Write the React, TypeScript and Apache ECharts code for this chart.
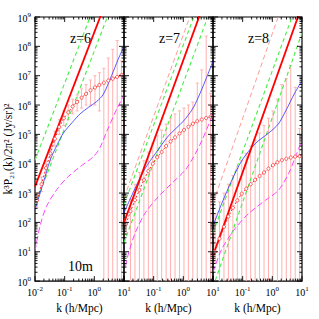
import React, { useEffect, useRef } from 'react';
import * as echarts from 'echarts';

const FONT = '"Liberation Serif", "DejaVu Serif", serif';

// ---- simulated power spectrum (circles) : k values shared by all panels
const kSim = [0.0117, 0.0166, 0.0234, 0.0331, 0.0468, 0.0661, 0.0933, 0.132, 0.186, 0.263,
  0.372, 0.525, 0.741, 1.05, 1.48, 2.09, 2.95, 4.17, 5.89, 8.32];

// z = 6
const sim6 = [560, 2.0e3, 7.1e3, 2.24e4, 7.1e4, 1.78e5, 3.55e5, 5.6e5, 8.9e5, 1.26e6,
  1.78e6, 2.4e6, 3.16e6, 3.98e6, 4.8e6, 5.75e6, 6.8e6, 7.9e6, 9.1e6, 1.05e7];
const hi6 = [1.0e3, 3.55e3, 1.26e4, 3.98e4, 1.26e5, 3.16e5, 6.3e5, 1.0e6, 1.58e6, 2.24e6,
  3.55e6, 5.0e6, 7.1e6, 1.0e7, 1.26e7, 1.78e7, 4.0e7, 7.9e7, 1.58e8, 3.16e7];
const lo6 = [316, 1.12e3, 3.98e3, 1.26e4, 3.98e4, 1.0e5, 2.0e5, 3.16e5, 5.0e5, 6.3e5,
  7.9e5, 1.0e6, 1.0e6, 1.0e6, 6.3e5, 0, 0, 0, 0, 0];

// z = 7
const sim7 = [89, 240, 575, 1.26e3, 2.82e3, 5.6e3, 1.0e4, 1.66e4, 2.5e4, 4.0e4,
  5.75e4, 7.9e4, 1.07e5, 1.41e5, 1.82e5, 2.3e5, 2.8e5, 3.2e5, 3.6e5, 4.0e5];
const hi7 = [200, 630, 2.0e3, 5.0e3, 1.26e4, 2.5e4, 5.0e4, 8.9e4, 1.41e5, 2.24e5,
  3.55e5, 5.0e5, 6.3e5, 7.9e5, 1.0e6, 1.26e6, 5.6e6, 1.58e7, 2.24e8, 2.5e6];
const lo7 = [40, 0, 0, 0, 0, 0, 0, 0, 0, 0, 0, 0, 0, 0, 0, 0, 0, 0, 0, 0];

// z = 8
const sim8 = [10, 28, 71, 158, 316, 562, 955, 1.41e3, 2.0e3, 2.82e3,
  3.8e3, 5.0e3, 6.8e3, 8.9e3, 1.12e4, 1.32e4, 1.48e4, 1.62e4, 1.74e4, 1.82e4];
const hi8 = [200, 500, 1.0e3, 2.0e3, 4.0e3, 7.1e3, 1.26e4, 2.24e4, 4.0e4, 6.3e4,
  1.12e5, 2.0e5, 3.55e5, 6.3e5, 1.58e6, 5.0e6, 7.9e6, 2.24e7, 4.0e6, 1.58e5];
const lo8 = [4, 0, 0, 0, 0, 0, 0, 0, 0, 0, 0, 0, 0, 0, 0, 0, 0, 0, 0, 0];

// ---- power-law noise lines (end points at k = 0.01 and k = 10)
const kLine = [0.01, 10];
const red6 = [1.66e3, 1.3e11];
const greenA6 = [1.32e4, 1.0e12];
const greenB6 = [380, 3.0e10];

const red7 = [98, 2.0e10];
const pink7 = [676, 1.5e11];
const greenA7 = [400, 5.8e10];
const greenB7 = [20.4, 3.0e9];

const red8 = [7.4, 2.45e9];
const pink8 = [457, 2.1e11];
const greenA8 = [45, 8.5e9];
const greenB8 = [0.63, 2.9e8];

// ---- blue curves
const blueK6 = [0.01, 0.019, 0.0324, 0.0562, 0.0912, 0.178, 0.331, 0.631, 1.2, 2.0, 3.8, 6.31, 10];
const blueP6 = [275, 2.19e3, 1.32e4, 4.47e4, 1.12e5, 2.51e5, 5.0e5, 8.3e5, 1.32e6, 2.3e6, 1.0e7, 3.55e7, 1.0e8];
const blueK7 = [0.01, 0.0251, 0.0525, 0.115, 0.316, 1.0, 2.0, 3.16, 5.62, 10];
const blueP7 = [214, 1.66e3, 7.1e3, 2.24e4, 8.9e4, 2.82e5, 7.1e5, 1.78e6, 7.1e6, 3.16e7];
const blueK8 = [0.01, 0.02, 0.0437, 0.0955, 0.269, 0.759, 1.58, 2.82, 5.62, 10];
const blueP8 = [76, 457, 2.82e3, 1.32e4, 4.9e4, 1.12e5, 2.24e5, 6.3e5, 2.51e6, 6.8e6];

// ---- magenta curves
const magK6 = [0.01, 0.0148, 0.0245, 0.0537, 0.117, 0.331, 0.933, 1.55, 2.63, 5.62, 10];
const magP6 = [10.7, 76, 355, 1.29e3, 3.24e3, 7.9e3, 1.74e4, 3.55e4, 1.26e5, 7.1e5, 2.14e6];
const magK7 = [0.0112, 0.0145, 0.024, 0.0525, 0.148, 0.417, 1.17, 2.24, 4.27, 10];
const magP7 = [3.16, 9.5, 44.7, 214, 776, 2.19e3, 6.2e3, 1.74e4, 6.3e4, 5.0e5];
const magK8 = [0.01, 0.02, 0.0562, 0.158, 0.575, 1.62, 3.55, 6.03, 10];
const magP8 = [2.0, 12.6, 63, 200, 562, 1.26e3, 4.68e3, 1.74e4, 6.3e4];

// ---- axis ticks
const xMajor = [0.01, 0.1, 1, 10];
const yMajor = [1, 10, 100, 1e3, 1e4, 1e5, 1e6, 1e7, 1e8, 1e9];
const minorOf = (majors: number[]) => {
  const out: number[] = [];
  for (let i = 0; i < majors.length - 1; i++) for (let m = 2; m <= 9; m++) out.push(majors[i] * m);
  return out;
};
const xMinor = minorOf(xMajor);
const yMinor = minorOf(yMajor);

const panelLabels = ['z=6', 'z=7', 'z=8'];

const X_MIN = 0.01, X_MAX = 10, Y_MIN = 1, Y_MAX = 1e9;
const GL = 35, GT = 17, GW = 89, GH = 267;

const RED = '#ff0000';
const GREEN = '#44ee44';
const BLUE = '#3030ff';
const MAGENTA = '#ff30ff';
const PINK = '#ff9090';
const ERR = '#ffb0b0';

const zip = (a: number[], b: number[]) => a.map((v, i) => [v, b[i]]);

function supLabel(v: number) {
  const e = Math.round(Math.log10(v));
  return `{b|10}{s|${e}}`;
}

const richNum = {
  b: { fontSize: 10, fontFamily: FONT, color: '#000', verticalAlign: 'bottom', lineHeight: 12 },
  s: { fontSize: 7, fontFamily: FONT, color: '#000', verticalAlign: 'top', lineHeight: 8 },
};

export default function App() {
  const ref = useRef<HTMLDivElement>(null);
  useEffect(() => {
    if (!ref.current) return;
    const chart = echarts.init(ref.current, null, { renderer: 'svg' });

    const panels = [
      { sim: sim6, hi: hi6, lo: lo6, red: red6, gA: greenA6, gB: greenB6, pink: null as number[] | null, bK: blueK6, bP: blueP6, mK: magK6, mP: magP6 },
      { sim: sim7, hi: hi7, lo: lo7, red: red7, gA: greenA7, gB: greenB7, pink: pink7, bK: blueK7, bP: blueP7, mK: magK7, mP: magP7 },
      { sim: sim8, hi: hi8, lo: lo8, red: red8, gA: greenA8, gB: greenB8, pink: pink8, bK: blueK8, bP: blueP8, mK: magK8, mP: magP8 },
    ];

    const series: any[] = [];
    panels.forEach((p, i) => {
      const ax = { xAxisIndex: i, yAxisIndex: i };
      // error bars
      series.push({
        type: 'custom', ...ax, z: 1,
        data: kSim.map((k, j) => [k, p.lo[j], p.hi[j]]),
        encode: { x: 0, y: 2 },
        renderItem: (params: any, api: any) => {
          const k = api.value(0), lo = api.value(1), hi = api.value(2);
          const top = api.coord([k, Math.min(hi, Y_MAX)]);
          const bot = api.coord([k, lo > Y_MIN ? lo : Y_MIN]);
          const children: any[] = [
            { type: 'line', shape: { x1: top[0], y1: top[1], x2: bot[0], y2: bot[1] }, style: { stroke: ERR, lineWidth: 1 } },
            { type: 'line', shape: { x1: top[0] - 1.5, y1: top[1], x2: top[0] + 1.5, y2: top[1] }, style: { stroke: ERR, lineWidth: 1 } },
          ];
          if (lo > Y_MIN) children.push({ type: 'line', shape: { x1: bot[0] - 1.5, y1: bot[1], x2: bot[0] + 1.5, y2: bot[1] }, style: { stroke: ERR, lineWidth: 1 } });
          return { type: 'group', children };
        },
      });
      const lineS = (data: number[][], color: string, width: number, type: any, z = 3, smooth: any = false) => ({
        type: 'line', ...ax, data, symbol: 'none', smooth, z, clip: true,
        lineStyle: { color, width, type },
      });
      if (p.pink) series.push(lineS(zip(kLine, p.pink), PINK, 0.9, [5, 3]));
      series.push(lineS(zip(kLine, p.gA), GREEN, 1.1, [4, 3]));
      series.push(lineS(zip(kLine, p.gB), GREEN, 1.1, [4, 3]));
      series.push(lineS(zip(p.mK, p.mP), MAGENTA, 0.9, [6, 3], 3, 0.3));
      series.push(lineS(zip(p.bK, p.bP), BLUE, 0.8, 'solid', 3, 0.3));
      series.push(lineS(zip(kLine, p.red), RED, 1.8, 'solid', 4));
      // simulation circles
      series.push({
        type: 'line', ...ax, z: 5, clip: true,
        data: zip(kSim, p.sim),
        symbol: 'circle', symbolSize: 3.2, showSymbol: true,
        itemStyle: { color: '#fff', borderColor: '#ff3030', borderWidth: 0.8 },
        lineStyle: { color: '#ff2020', width: 1, type: [2, 2] },
      });
      // ticks (minor + major, all four sides)
      series.push({
        type: 'custom', ...ax, z: 6, silent: true,
        data: [...xMajor.map((v) => [v, 2]), ...xMinor.map((v) => [v, 1])],
        renderItem: (params: any, api: any) => {
          const v = api.value(0), len = api.value(1) > 1.5 ? 5 : 2.5;
          const b = api.coord([v, Y_MIN]);
          const t = api.coord([v, Y_MAX]);
          return {
            type: 'group', children: [
              { type: 'line', shape: { x1: b[0], y1: b[1], x2: b[0], y2: b[1] - len }, style: { stroke: '#000', lineWidth: 0.9 } },
              { type: 'line', shape: { x1: t[0], y1: t[1], x2: t[0], y2: t[1] + len }, style: { stroke: '#000', lineWidth: 0.9 } },
            ],
          };
        },
      });
      series.push({
        type: 'custom', ...ax, z: 6, silent: true,
        data: [...yMajor.map((v) => [2, v]), ...yMinor.map((v) => [1, v])],
        renderItem: (params: any, api: any) => {
          const v = api.value(1), len = api.value(0) > 1.5 ? 5 : 2.5;
          const l = api.coord([X_MIN, v]);
          const r = api.coord([X_MAX, v]);
          return {
            type: 'group', children: [
              { type: 'line', shape: { x1: l[0], y1: l[1], x2: l[0] + len, y2: l[1] }, style: { stroke: '#000', lineWidth: 0.9 } },
              { type: 'line', shape: { x1: r[0], y1: r[1], x2: r[0] - len, y2: r[1] }, style: { stroke: '#000', lineWidth: 0.9 } },
            ],
          };
        },
      });
    });

    const option: any = {
      animation: false,
      backgroundColor: '#fff',
      grid: panels.map((_, i) => ({
        left: GL + GW * i, top: GT, width: GW, height: GH,
        show: true, borderColor: '#000', borderWidth: 1.2, backgroundColor: 'transparent',
      })),
      xAxis: panels.map((_, i) => ({
        type: 'log', gridIndex: i, min: X_MIN, max: X_MAX, logBase: 10, interval: 1, splitNumber: 3,
        axisLine: { show: false }, axisTick: { show: false }, splitLine: { show: false },
        axisLabel: {
          margin: 4, showMinLabel: true, showMaxLabel: true,
          formatter: (v: number) => (i > 0 && Math.round(Math.log10(v)) === -2 ? '' : supLabel(v)),
          rich: richNum,
        },
        name: 'k (h/Mpc)', nameLocation: 'middle', nameGap: 19,
        nameTextStyle: { fontFamily: FONT, fontSize: 11.5, color: '#000' },
      })),
      yAxis: panels.map((_, i) => ({
        type: 'log', gridIndex: i, min: Y_MIN, max: Y_MAX, logBase: 10, interval: 1, splitNumber: 9,
        axisLine: { show: false }, axisTick: { show: false }, splitLine: { show: false },
        axisLabel: i === 0 ? { margin: 4, formatter: supLabel, rich: richNum } : { show: false },
        name: i === 0 ? 'k³P₂₁(k)/2π² (Jy/sr)²' : '',
        nameLocation: 'middle', nameGap: 21,
        nameTextStyle: { fontFamily: FONT, fontSize: 11.5, color: '#000' },
      })),
      graphic: [
        ...panelLabels.map((t, i) => ({
          type: 'text', x: GL + GW * i + GW / 2 + 1, y: 38, silent: true,
          style: { text: t, fontFamily: FONT, fontSize: 14, fill: '#000', textAlign: 'center', textVerticalAlign: 'middle' },
        })),
        {
          type: 'text', x: GL + GW / 2 + 1, y: 266, silent: true,
          style: { text: '10m', fontFamily: FONT, fontSize: 14, fill: '#000', textAlign: 'center', textVerticalAlign: 'middle' },
        },
      ],
      series,
    };
    chart.setOption(option);
    return () => chart.dispose();
  }, []);

  return <div ref={ref} style={{ position: 'fixed', left: 0, top: 0, width: 319, height: 319 }} />;
}
